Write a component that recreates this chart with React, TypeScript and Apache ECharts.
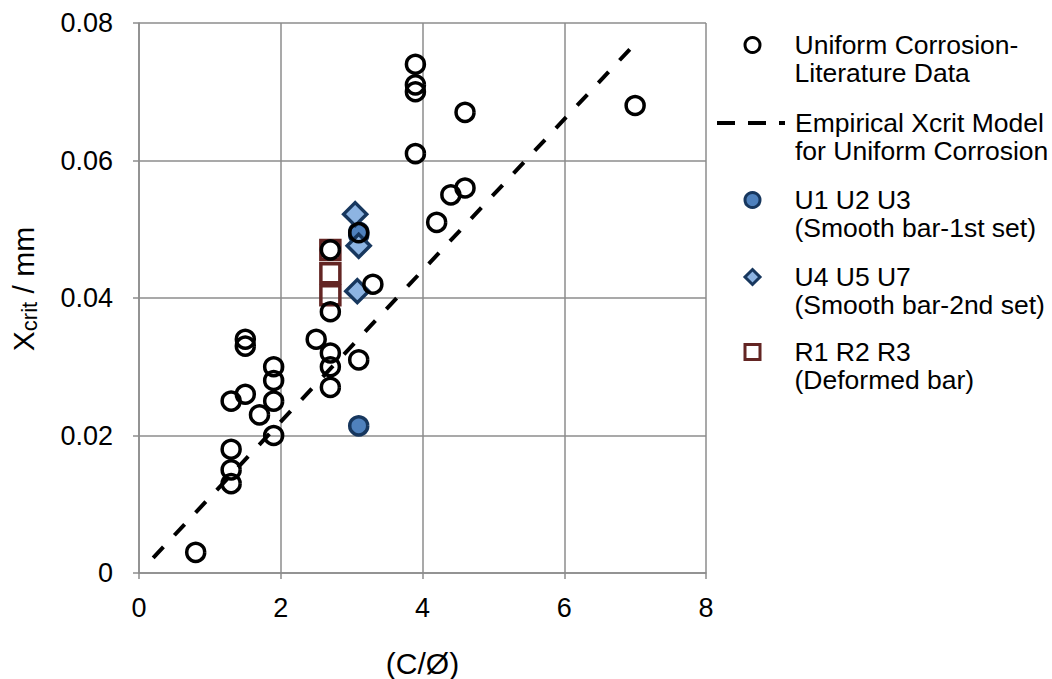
import React, { useEffect, useRef } from "react";
import * as echarts from "echarts";

const FONT = "'Liberation Sans', Arial, sans-serif";

const xTicks = [0, 2, 4, 6, 8];
const yTicks = [0, 0.02, 0.04, 0.06, 0.08];

const seriesNames = [
  "Uniform Corrosion-\nLiterature Data",
  "Empirical Xcrit Model\nfor Uniform Corrosion",
  "U1 U2 U3\n(Smooth bar-1st set)",
  "U4 U5 U7\n(Smooth bar-2nd set)",
  "R1 R2 R3\n(Deformed bar)",
];

const literatureData: [number, number][] = [
  [0.8, 0.003], [1.3, 0.013], [1.3, 0.015], [1.3, 0.018], [1.3, 0.025],
  [1.5, 0.026], [1.5, 0.033], [1.5, 0.034], [1.7, 0.023],
  [1.9, 0.02], [1.9, 0.025], [1.9, 0.028], [1.9, 0.03],
  [2.5, 0.034], [2.7, 0.027], [2.7, 0.03], [2.7, 0.032], [2.7, 0.038], [2.7, 0.047],
  [3.1, 0.031], [3.1, 0.0495], [3.3, 0.042],
  [3.9, 0.061], [3.9, 0.07], [3.9, 0.071], [3.9, 0.074],
  [4.2, 0.051], [4.4, 0.055], [4.6, 0.056], [4.6, 0.067], [7.0, 0.068],
];

const modelData: [number, number][] = [
  [0.2, 0.0022],
  [7.0, 0.077],
];

const smooth1Data: [number, number][] = [
  [3.1, 0.0214], [3.1, 0.0492], [3.1, 0.0496],
];

const smooth2Data: [number, number][] = [
  [3.05, 0.0522], [3.1, 0.0476], [3.08, 0.041],
];

const deformedData: [number, number][] = [
  [2.7, 0.047], [2.7, 0.0436], [2.7, 0.0404],
];

const legendIconCenters = [45, 123, 200, 277, 352];

export default function App() {
  const ref = useRef<HTMLDivElement>(null);

  useEffect(() => {
    if (!ref.current) return;
    const chart = echarts.init(ref.current, undefined, { renderer: "svg" });
    const gridColor = "#8c8c8c";
    const LH = 28;
    const FS = 26.5;

    const makeLegend = (i: number) => {
      const isLine = i === 1;
      const iconW = isLine ? 68 : 15;
      const left = isLine ? 715 : 751 - iconW / 2;
      const spacer = 793 - (left + iconW + 5);
      return {
        data: [seriesNames[i]],
        left,
        top: legendIconCenters[i] - (LH * 3) / 2,
        orient: "vertical",
        padding: 0,
        itemWidth: iconW,
        itemHeight: isLine ? 14 : 15,
        selectedMode: false,
        itemStyle: isLine ? {} : { borderWidth: 3 },
        lineStyle: { color: "#000", width: 4, type: [18, 13] },
        formatter: (name: string) =>
          ["", ...name.split("\n")]
            .map((l) => (spacer > 0 ? `{s| }` : "") + `{t|${l === "" ? " " : l}}`)
            .join("\n"),
        textStyle: {
          fontFamily: FONT,
          fontSize: FS,
          color: "#000",
          lineHeight: LH,
          rich: {
            t: { fontFamily: FONT, fontSize: FS, color: "#000", lineHeight: LH },
            s: { width: spacer, fontSize: FS, lineHeight: LH },
          },
        },
      };
    };

    chart.setOption({
      animation: false,
      backgroundColor: "#fff",
      textStyle: { fontFamily: FONT },
      grid: { left: 139, right: 346, top: 23, bottom: 106, outerBoundsMode: "none", containLabel: false },
      legend: seriesNames.map((_, i) => makeLegend(i)),
      xAxis: {
        type: "value",
        min: xTicks[0],
        max: xTicks[xTicks.length - 1],
        interval: 2,
        name: "(C/Ø)",
        nameLocation: "middle",
        nameGap: 75,
        nameTextStyle: { fontFamily: FONT, fontSize: 30, color: "#000" },
        axisLine: { show: true, lineStyle: { color: gridColor, width: 1.5 } },
        axisTick: { show: true, length: 6, lineStyle: { color: gridColor, width: 1.5 } },
        splitLine: { show: true, lineStyle: { color: gridColor, width: 1.5 } },
        axisLabel: {
          fontFamily: FONT,
          fontSize: 27,
          color: "#000",
          margin: 21,
          formatter: (v: number) => String(v),
        },
      },
      yAxis: {
        type: "value",
        min: yTicks[0],
        max: yTicks[yTicks.length - 1],
        interval: 0.02,
        name: "{a|X}{b|crit}{a| / mm}",
        nameLocation: "middle",
        nameGap: 99,
        nameTextStyle: {
          color: "#000",
          padding: [0, 0, 0, 18],
          rich: {
            a: { fontFamily: FONT, fontSize: 30, color: "#000", lineHeight: 34 },
            b: {
              fontFamily: FONT,
              fontSize: 22,
              color: "#000",
              verticalAlign: "bottom",
              lineHeight: 24,
            },
          },
        },
        axisLine: { show: true, lineStyle: { color: gridColor, width: 1.5 } },
        axisTick: { show: true, length: 6, lineStyle: { color: gridColor, width: 1.5 } },
        splitLine: { show: true, lineStyle: { color: gridColor, width: 1.5 } },
        axisLabel: {
          fontFamily: FONT,
          fontSize: 27,
          color: "#000",
          margin: 26,
          formatter: (v: number) => (v === 0 ? "0" : v.toFixed(2)),
        },
      },
      series: [
        {
          name: seriesNames[0],
          type: "scatter",
          data: literatureData,
          symbol: "circle",
          symbolSize: 18,
          z: 5,
          itemStyle: { color: "rgba(255,255,255,0)", borderColor: "#000", borderWidth: 3.5, opacity: 1 },
        },
        {
          name: seriesNames[1],
          type: "line",
          data: modelData,
          symbol: "none",
          showSymbol: false,
          z: 2,
          lineStyle: { color: "#000", width: 4, type: [15, 16] },
          itemStyle: { color: "rgba(0,0,0,0)", borderWidth: 0 },
        },
        {
          name: seriesNames[2],
          type: "scatter",
          data: smooth1Data,
          symbol: "circle",
          symbolSize: 18,
          z: 3,
          itemStyle: { color: "#4f81bd", borderColor: "#17375e", borderWidth: 3.5, opacity: 1 },
        },
        {
          name: seriesNames[3],
          type: "scatter",
          data: smooth2Data,
          symbol: "diamond",
          symbolSize: 23,
          z: 4,
          itemStyle: { color: "#8db4e2", borderColor: "#17375e", borderWidth: 3.5, opacity: 1 },
        },
        {
          name: seriesNames[4],
          type: "scatter",
          data: deformedData,
          symbol: "rect",
          symbolSize: 19,
          z: 4,
          itemStyle: { color: "rgba(255,255,255,0)", borderColor: "#632523", borderWidth: 3.5, opacity: 1 },
        },
      ],
    });
    return () => chart.dispose();
  }, []);

  return (
    <div
      ref={ref}
      style={{ position: "absolute", left: 0, top: 0, width: 1052, height: 679 }}
    />
  );
}
